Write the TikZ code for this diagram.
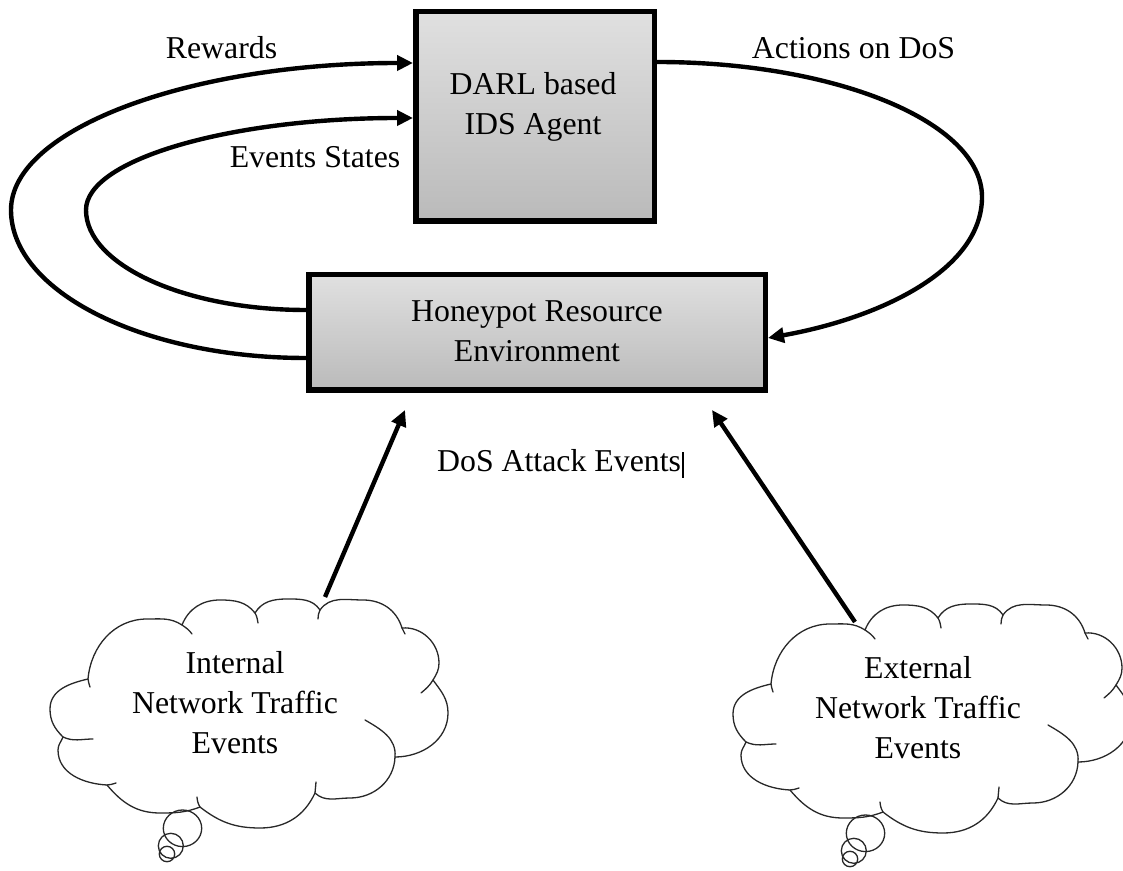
\documentclass[tikz,border=0pt]{standalone}
\usepackage{fontspec}
\setmainfont{Liberation Serif}
\usetikzlibrary{arrows.meta,calc}
\definecolor{boxtop}{RGB}{224,224,224}
\definecolor{boxbot}{RGB}{186,186,186}
\definecolor{cloudline}{RGB}{40,40,40}
\tikzset{
  stagebox/.style={draw=black, line width=5.5pt, top color=boxtop, bottom color=boxbot, inner sep=0pt},
  conn/.style={line width=4.4pt, -{Triangle[length=16pt,width=15pt]}},
  lbl/.style={font=\fontsize{31.8}{40}\selectfont, inner sep=0pt, align=center},
  cloudln/.style={draw=cloudline, line width=1.3pt, line join=round, line cap=round},
}
\newcommand\drawcloud{%
  \draw[cloudln, fill=white]
    (88,191) to[out=85,in=180] (147,251) to[out=0,in=147] (182,245)
    to[out=68,in=180] (220,270) to[out=0,in=128] (255,257)
    to[out=59,in=180] (287,271) to[out=0,in=124] (320,260)
    to[out=55,in=180] (363,270) to[out=0,in=107] (402,242)
    to[out=5,in=90] (439,207) to[out=-90,in=59] (433,190)
    to[out=-54,in=90] (448,157) to[out=-90,in=0] (395,113)
    to[out=-92,in=0] (350,72) to[out=180,in=-43] (315,77)
    to[out=-115,in=0] (260,42) to[out=180,in=-38] (200,63)
    to[out=-159,in=0] (160,57) to[out=180,in=-50] (107,85)
    to[out=177,in=-90] (58,120) to[out=90,in=-111] (63,133)
    to[out=135,in=-90] (50,161) to[out=90,in=-167] (88,191) -- cycle;
  \draw[cloudln]
    (182,245) to[out=-35,in=125] (192,236)
    (255,257) to[out=-60,in=100] (258,247)
    (320,260) to[out=-125,in=80] (318,251)
    (402,242) to[out=-73,in=110] (405,236)
    (433,190) to[out=-121,in=40] (421,177)
    (395,113) to[out=85,in=-30] (365,150)
    (315,77) to[out=85,in=-95] (316,88)
    (200,63) to[out=120,in=-85] (197,73)
    (107,85) to[out=0,in=195] (116,87)
    (63,133) to[out=-25,in=180] (93,131)
    (88,191) to[out=-95,in=95] (90,183);
  \draw[cloudln]
    (182.5,41.7) ellipse[x radius=19.2, y radius=18.3]
    (170.8,24.2) circle[radius=12.5]
    (167,16) circle[radius=7.7];
}
\begin{document}
\begin{tikzpicture}[x=1pt,y=1pt]
\useasboundingbox (0,0) rectangle (1123,870);

% boxes
\node[stagebox, minimum width=238.5pt, minimum height=209.5pt] (darl) at (535,753.5) {};
\node[lbl, anchor=base] (darltxt) at (533,735) {DARL based\\IDS Agent};
\node[stagebox, minimum width=456.5pt, minimum height=115.5pt] (hp) at (537,537.5) {};
\node[lbl, anchor=base] (hptxt) at (537,508) {Honeypot Resource\\Environment};

% labels
\node[lbl, anchor=base] (rew) at (221.5,811) {Rewards};
\node[lbl, anchor=base] (evs) at (315,702) {Events States};
\node[lbl, anchor=base] (act) at (853.5,811) {Actions on DoS};
\node[lbl, anchor=base west] (dos) at (437,398) {DoS Attack Events\kern1.5pt\rule[-6pt]{1.2pt}{26pt}};

% feedback loops
\draw[conn] ([yshift=-25.5pt]hp.west) .. controls (144,512) and (11,578) .. (11,660)
  .. controls (11,741) and (190,807) .. ([yshift=53.5pt]darl.west);
\draw[conn] ([yshift=22.5pt]hp.west) .. controls (185,560) and (86,605) .. (86,660)
  .. controls (86,711) and (232,752) .. ([yshift=-1.5pt]darl.west);
\draw[conn] ([yshift=54.5pt]darl.east) .. controls (836,808) and (982,748) .. (982,673)
  .. controls (982,600) and (880,552) .. ([yshift=-5.5pt]hp.east);

% clouds
\begin{scope}
  \drawcloud
  \node[lbl, anchor=base] (intnet) at (235,117) {Internal\\Network Traffic\\Events};
\end{scope}
\begin{scope}[shift={(683,-5)}]
  \drawcloud
  \node[lbl, anchor=base] (extnet) at (235,117) {External\\Network Traffic\\Events};
\end{scope}

% traffic arrows
\coordinate (ltail) at (325,273);
\coordinate (rtail) at (855,248);
\draw[conn] (ltail) -- ($(hp.south)+(-132,-17)$);
\draw[conn] (rtail) -- ($(hp.south)+(175,-17)$);
\end{tikzpicture}
\end{document}
